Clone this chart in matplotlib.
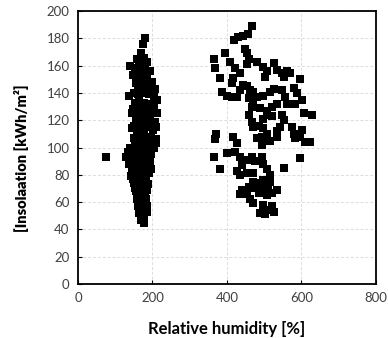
import matplotlib
matplotlib.use("Agg")
import matplotlib.pyplot as plt

# first group of measurements (around 150-210 %)
rh_a = [181, 174, 170, 178, 163, 172, 185,
        140, 152, 165, 180, 193,
        148, 160, 172, 186, 200,
        155, 168, 180, 193, 206,
        137, 150, 162, 176, 190, 203, 213,
        152, 165, 178, 192, 205,
        148, 160, 173, 186, 199, 212,
        155, 168, 181, 194, 207,
        150, 162, 175, 188, 201,
        145, 158, 171, 184, 197, 209,
        152, 165, 178, 192, 209,
        140, 155, 168, 182, 195,
        130, 145, 160, 176, 192,
        138, 152, 166, 180, 197,
        142, 155, 168, 182,
        150, 162, 175, 187,
        155, 167, 180,
        158, 170, 183,
        160, 172, 184,
        163, 175, 185,
        168, 178,
        75,
        158, 168, 185, 160, 173, 197, 145, 167, 182, 198,
        155, 170, 196, 210, 150, 177, 190, 203, 147, 162,
        185, 135, 150, 170, 185, 145, 160, 175, 190, 148,
        165, 180, 153, 170, 185, 160, 175, 165, 180, 170, 178]
ins_a = [180, 176, 169, 166, 163, 162, 163,
         160, 158, 157, 158, 156,
         153, 151, 152, 150, 148,
         147, 146, 145, 144, 143,
         138, 140, 139, 140, 139, 138, 135,
         133, 134, 133, 132, 131,
         128, 127, 127, 126, 126, 125,
         122, 121, 120, 120, 119,
         116, 115, 114, 115, 113,
         114, 109, 108, 108, 108, 106,
         104, 103, 102, 101, 103,
         100, 98, 97, 96, 95,
         93, 92, 91, 90, 90,
         88, 86, 85, 86, 84,
         79, 80, 79, 78,
         74, 73, 72, 73,
         68, 67, 66,
         62, 61, 62,
         57, 56, 57,
         52, 51, 53,
         47, 48,
         93,
         165, 158, 154, 143, 149, 141, 125, 130, 123, 129,
         118, 117, 117, 115, 107, 110, 104, 100, 96, 94,
         99, 97, 90, 88, 92, 83, 82, 82, 81, 77,
         76, 75, 70, 70, 69, 65, 64, 59, 59, 54, 45]

# second group of measurements (around 360-630 %)
rh_b = [468, 457, 444, 430, 420,
        365, 368, 395, 381,
        408, 421, 435, 417, 413,
        448, 455, 460, 453,
        480, 498, 507, 502,
        526, 533, 547, 561, 569, 552,
        596,
        386, 399, 413, 426, 435, 444, 453, 462, 471, 458, 471, 480, 498,
        516, 525, 547, 556, 561,
        579, 587, 601, 583,
        606, 628,
        458, 467, 489, 507, 520, 534,
        498, 507, 520, 547, 552, 543, 534,
        467, 471, 485, 498, 507, 493, 480, 516, 534, 493,
        574, 579, 583, 601, 596, 610, 624,
        370, 368, 365, 399, 381,
        417, 426, 421, 435, 453, 467, 475, 493, 498,
        426, 440, 453, 471, 435,
        507, 516, 552,
        440, 453, 435, 458, 471, 489, 507, 511, 498, 520, 534, 507, 485, 475, 498, 516,
        462, 471,
        489, 502, 511, 520, 525, 498,
        596]
ins_b = [189, 183, 182, 181, 179,
         165, 158, 169, 151,
         163, 158, 155, 151, 147,
         172, 169, 165, 161,
         163, 159, 156, 152,
         162, 157, 155, 156, 155, 152,
         150,
         141, 138, 137, 137, 142, 146, 145, 142, 141, 136, 135, 137, 138,
         141, 143, 142, 137, 132,
         144, 140, 135, 132,
         125, 124,
         124, 130, 129, 127, 130, 132,
         121, 124, 123, 124, 120, 115, 112,
         119, 115, 116, 114, 110, 108, 107, 105, 108, 102,
         115, 110, 107, 113, 108, 104, 104,
         110, 106, 93, 96, 84,
         108, 103, 97, 93, 91, 93, 90, 93, 88,
         83, 87, 81, 81, 80,
         84, 80, 85,
         69, 66, 66, 71, 75, 74, 75, 71, 69, 67, 69, 65, 67, 70, 76, 75,
         62, 59,
         52, 51, 54, 57, 53, 58,
         92]

plt.rcParams['font.family'] = ['Lato', 'DejaVu Sans']

fig = plt.figure(figsize=(3.88, 3.38), dpi=100)
ax = fig.add_axes([0.201, 0.160, 0.768, 0.807])

ax.scatter(rh_a, ins_a, marker='s', s=29, c='black', linewidths=0, zorder=3)
ax.scatter(rh_b, ins_b, marker='s', s=29, c='black', linewidths=0, zorder=3)

ax.set_xlim(0, 800)
ax.set_ylim(0, 200)
ax.set_xticks(range(0, 801, 200))
ax.set_yticks(range(0, 201, 20))
ax.grid(True, color='#dcdcdc', linestyle=(0, (3, 2)), linewidth=0.7)
ax.set_axisbelow(True)

for s in ax.spines.values():
    s.set_linewidth(1.3)
    s.set_color('black')
ax.tick_params(direction='in', length=3, width=0.8, labelsize=9.5,
               labelcolor='#404040', pad=6)

ax.set_xlabel('Relative humidity [%]', fontsize=12, fontweight='bold', labelpad=12)
ax.set_ylabel('[Insolaation [kWh/m²]', fontsize=10.5, fontweight='heavy')
ax.yaxis.set_label_coords(-0.165, 0.46)

fig.savefig('out.png', dpi=100)
